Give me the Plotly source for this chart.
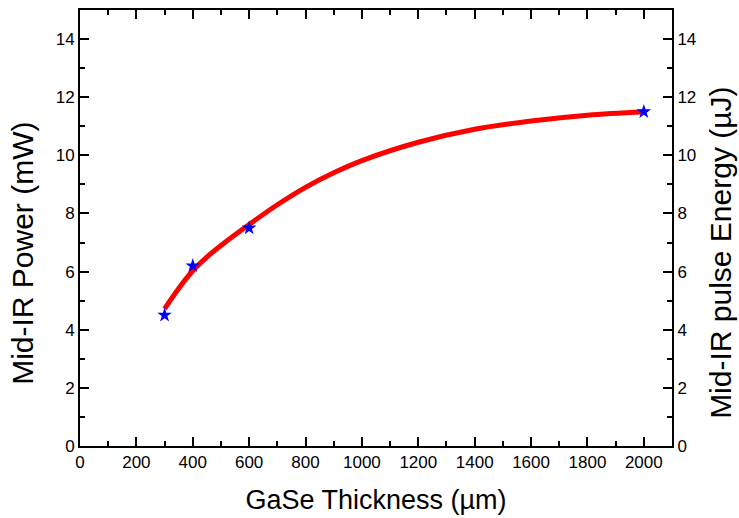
import plotly.graph_objects as go

# measured points
thickness = [300, 400, 600, 2000]
power = [4.5, 6.2, 7.5, 11.5]

# fitted curve
fit_x = [300, 350, 400, 450, 500, 600, 700, 800, 900, 1000, 1200, 1400, 1600, 1800, 2000]
fit_y = [4.72, 5.42, 6.03, 6.5, 6.9, 7.62, 8.3, 8.9, 9.4, 9.82, 10.45, 10.9, 11.18, 11.38, 11.5]

x_ticks = [0, 200, 400, 600, 800, 1000, 1200, 1400, 1600, 1800, 2000]
y_ticks = [0, 2, 4, 6, 8, 10, 12, 14]

FONT = "Liberation Sans, Arial, sans-serif"

fig = go.Figure()
fig.add_trace(go.Scatter(x=fit_x, y=fit_y, mode="lines",
                         line=dict(color="#ff0000", width=5, shape="spline", smoothing=1.0),
                         showlegend=False, hoverinfo="skip"))
fig.add_trace(go.Scatter(x=thickness, y=power, mode="markers",
                         marker=dict(symbol="star", size=11, color="#0000ff", line=dict(width=0)),
                         showlegend=False))
# invisible trace to activate the right axis
fig.add_trace(go.Scatter(x=thickness, y=power, yaxis="y2", mode="markers",
                         marker=dict(opacity=0), showlegend=False, hoverinfo="skip"))

axis_common = dict(showline=True, linecolor="black", linewidth=2, ticks="inside", ticklen=9,
                   tickwidth=2, tickcolor="black", showgrid=False, zeroline=False,
                   tickfont=dict(family=FONT, size=17, color="black"))

fig.update_layout(
    width=739, height=518,
    margin=dict(l=80, r=67, t=8, b=72),
    paper_bgcolor="white", plot_bgcolor="white",
    xaxis=dict(range=[0, 2100], tickvals=x_ticks, mirror="ticks",
               minor=dict(dtick=100, ticks="inside", ticklen=5, tickwidth=2, tickcolor="black"),
               title=dict(text="GaSe Thickness (µm)", font=dict(family=FONT, size=27, color="black"), standoff=19),
               **axis_common),
    yaxis=dict(range=[0, 15], tickvals=y_ticks, mirror=True,
               minor=dict(dtick=1, ticks="inside", ticklen=5, tickwidth=2, tickcolor="black"),
               **axis_common),
    yaxis2=dict(range=[0, 15], tickvals=y_ticks, overlaying="y", side="right", anchor="x",
                minor=dict(dtick=1, ticks="inside", ticklen=5, tickwidth=2, tickcolor="black"),
                **axis_common),
    annotations=[
        dict(text="Mid-IR Power (mW)", xref="paper", yref="paper", x=-0.0963, y=0.443,
             xanchor="center", yanchor="middle", textangle=-90, showarrow=False,
             font=dict(family=FONT, size=30, color="black")),
        dict(text="Mid-IR pulse Energy (µJ)", xref="paper", yref="paper", x=1.0828, y=0.443,
             xanchor="center", yanchor="middle", textangle=-90, showarrow=False,
             font=dict(family=FONT, size=30, color="black")),
    ],
)

fig.write_html("out.html")
